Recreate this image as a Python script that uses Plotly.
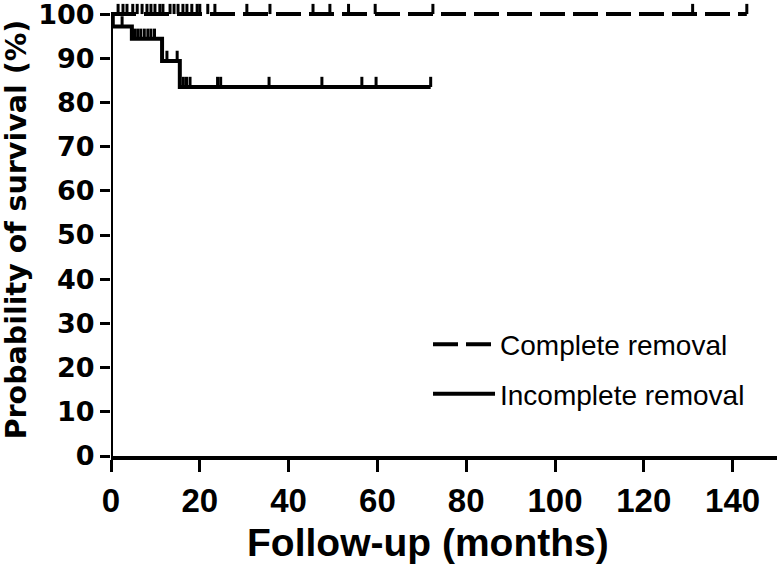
import plotly.graph_objects as go

# ---------------- data ----------------
# Complete removal: no events, survival stays at 100 %
complete_times = [0, 143.2]
complete_surv = [100, 100]
complete_censor = [1.6, 2.7, 3.6, 4.9, 5.9, 7.0, 8.1, 9.0, 9.9, 11.0, 11.7, 13.3,
                   14.2, 15.1, 16.2, 17.1, 18.2, 19.4, 20.0, 21.8, 23.4, 30.6,
                   35.8, 45.5, 49.3, 53.5, 59.5, 72.5, 131.0, 143.2]

# Incomplete removal: step curve
incomplete_times = [0, 0.4, 4.7, 11.5, 15.5, 72.0]
incomplete_surv = [100, 97.2, 94.4, 89.4, 83.5, 83.5]
incomplete_censor = [2.5, 5.3, 6.0, 6.7, 7.5, 8.3, 9.0, 9.8, 12.6, 14.9, 16.3,
                     17.0, 17.8, 24.0, 24.7, 35.6, 47.5, 56.5, 59.7, 72.0]

x_ticks = [0, 20, 40, 60, 80, 100, 120, 140]
y_ticks = [0, 10, 20, 30, 40, 50, 60, 70, 80, 90, 100]

TICK_H = 2.3  # censor tick height in y units


def surv_at(t, times, surv):
    s = surv[0]
    for ti, si in zip(times, surv):
        if ti <= t:
            s = si
    return s


def censor_segments(cens, times, surv):
    xs, ys = [], []
    for c in cens:
        s = surv_at(c, times, surv)
        xs += [c, c, None]
        ys += [s, s + TICK_H, None]
    return xs, ys


fig = go.Figure()

cx, cy = censor_segments(complete_censor, complete_times, complete_surv)
ix, iy = censor_segments(incomplete_censor, incomplete_times, incomplete_surv)

fig.add_trace(go.Scatter(x=complete_times, y=complete_surv, mode="lines",
                         line=dict(color="black", width=4, dash="25px,8px", shape="hv"),
                         name="Complete removal", legendgroup="c"))
fig.add_trace(go.Scatter(x=cx, y=cy, mode="lines", line=dict(color="black", width=3),
                         showlegend=False, legendgroup="c", hoverinfo="skip"))
fig.add_trace(go.Scatter(x=incomplete_times, y=incomplete_surv, mode="lines",
                         line=dict(color="black", width=4, shape="hv"),
                         name="Incomplete removal", legendgroup="i"))
fig.add_trace(go.Scatter(x=ix, y=iy, mode="lines", line=dict(color="black", width=3),
                         showlegend=False, legendgroup="i", hoverinfo="skip"))

# y axis line only up to 100
fig.add_shape(type="line", xref="x", yref="y", x0=0, x1=0, y0=0, y1=100,
              line=dict(color="black", width=4))

ARIAL = "Liberation Sans, Arial"

# x-axis title as annotation (slightly left of the axis centre, as in the original)
fig.add_annotation(text="Follow-up (months)", xref="paper", yref="paper",
                   x=0.476, y=-0.19, xanchor="center", yanchor="middle", showarrow=False,
                   font=dict(family=ARIAL, size=39, color="black", weight="bold"))

fig.update_layout(
    width=780, height=564,
    margin=dict(l=111, r=3, t=3, b=108),
    plot_bgcolor="white", paper_bgcolor="white",
    showlegend=True,
    legend=dict(x=0.476, y=0.301, xanchor="left", yanchor="top", itemwidth=62,
                font=dict(family=ARIAL, size=28, color="black"),
                bgcolor="rgba(0,0,0,0)", traceorder="grouped", tracegroupgap=10),
    xaxis=dict(range=[0, 150], tickvals=x_ticks, ticks="outside", ticklen=12, tickwidth=3,
               tickcolor="black", showline=True, linewidth=4, linecolor="black",
               showgrid=False, zeroline=False, automargin=False,
               tickfont=dict(family=ARIAL, size=33, color="black", weight="bold")),
    yaxis=dict(range=[0, 102.5], tickvals=y_ticks, ticks="outside", ticklen=10, tickwidth=3,
               tickcolor="black", showline=False, showgrid=False, zeroline=False,
               automargin=False, ticklabeloverflow="allow",
               tickfont=dict(family="DejaVu Sans", size=27, color="black", weight="bold"),
               title=dict(text="Probability of survival (%)", standoff=8,
                          font=dict(family="DejaVu Sans", size=28.5, color="black", weight="bold"))),
)

fig.write_html("out.html", config={"displayModeBar": False},
               post_script="document.body.style.margin='0';")
